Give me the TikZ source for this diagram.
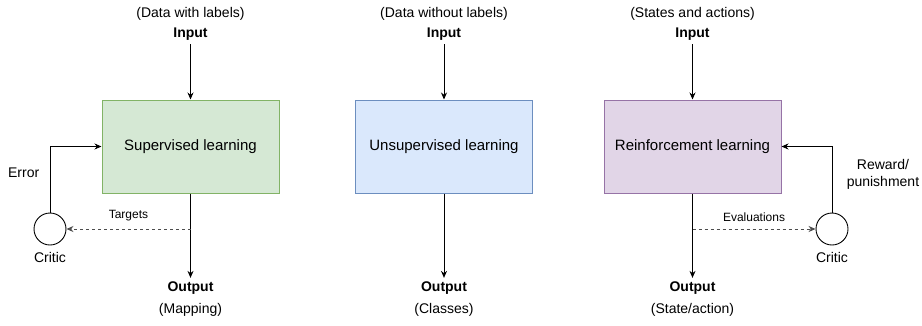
\documentclass[tikz,border=0pt]{standalone}
\usepackage{fontspec}
\setmainfont{Liberation Sans}
\usetikzlibrary{arrows.meta}
\usetikzlibrary{calc}
\usetikzlibrary{positioning}
\definecolor{supF}{HTML}{D5E8D4}
\definecolor{supD}{HTML}{82B366}
\definecolor{unsF}{HTML}{DAE8FC}
\definecolor{unsD}{HTML}{6C8EBF}
\definecolor{rlF}{HTML}{E1D5E7}
\definecolor{rlD}{HTML}{9673A6}

\begin{document}
\begin{tikzpicture}[>={Stealth[length=7pt,width=6pt]}, x=1pt, y=-1pt, line width=0.9pt,
    box/.style={rectangle, minimum width=177pt, minimum height=93pt, line width=1pt, font=\fontsize{15}{18}\selectfont},
    lbl/.style={font=\fontsize{14}{17}\selectfont},
    small/.style={font=\fontsize{12}{14}\selectfont},
    critic/.style={circle, draw, fill=white, minimum size=32pt, inner sep=0pt},
    fb/.style={->, dash pattern=on 3pt off 3pt, draw=black!70}]
    \useasboundingbox (0,0) rectangle (922,325);
    \foreach \n/\x/\f/\d/\t/\i/\o in {sup/190.5/supF/supD/Supervised learning/Data with labels/Mapping,
        uns/444/unsF/unsD/Unsupervised learning/Data without labels/Classes,
        rl/692.5/rlF/rlD/Reinforcement learning/States and actions/{State/action}}
    {\node[box, fill=\f, draw=\d](\n) at (\x,146.5) {\t};
    \node[lbl](note\n) at (\x,13.5) {(\i)};
    \node[lbl](in\n) at (\x,34) {\bfseries Input};
    \node[lbl](out\n) at (\x,288) {\bfseries Output};
    \node[lbl](res\n) at (\x,310) {(\o)};
    \draw[->](in\n) -- (\n);
    \draw[->](\n) -- (out\n);}
    \node[critic](crit1) at (50,229) {};
    \node[lbl, below=3pt of crit1](critname1) {Critic};
    \coordinate (tgt) at (sup.south |- crit1);
    \draw[fb](tgt) -- node[small, above=4pt](tlbl) {Targets} (crit1);
    \draw[->](crit1) |- node[lbl, pos=0.3, left=7pt](err) {Error} (sup);
    \node[critic](crit3) at (832,229) {};
    \node[lbl, below=3pt of crit3](critname3) {Critic};
    \coordinate (evl) at (rl.south |- crit3);
    \draw[fb](evl) -- node[small, above=4pt](elbl) {Evaluations} (crit3);
    \draw[->](crit3) |- node[lbl, pos=0.29, right=11pt, align=center](rew) {Reward/\\punishment} (rl);
\end{tikzpicture}
\end{document}
